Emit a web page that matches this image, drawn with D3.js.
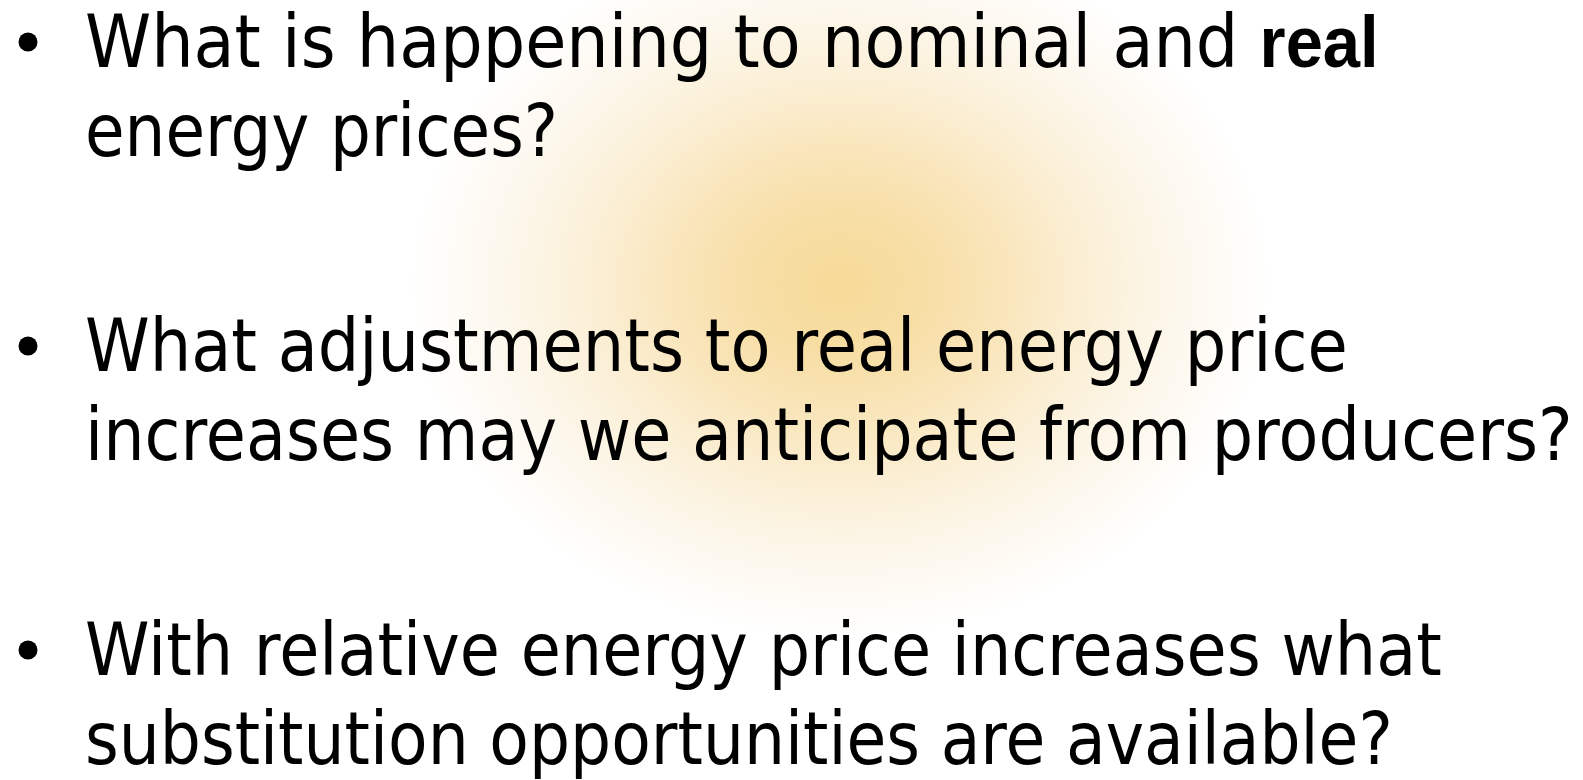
<!DOCTYPE html>
<html>
<head>
<meta charset="utf-8">
<script src="https://cdn.jsdelivr.net/npm/d3@7"></script>
<style>
  html, body { margin: 0; padding: 0; background: #fff; overflow: hidden; }
</style>
</head>
<body>
<svg id="slide" width="1583" height="780"></svg>
<script>
// bullet text, one array of lines per bullet (|word| = bold)
const bullet1 = ["What is happening to nominal and |real|", "energy prices?"]
const bullet2 = ["What adjustments to real energy price", "increases may we anticipate from producers?"]
const bullet3 = ["With relative energy price increases what", "substitution opportunities are available?"]
const bullets = [bullet1, bullet2, bullet3]

// right edge of every line in the picture (used to fit the font width)
const lineEnds = [[1379, 558], [1348, 1573], [1442, 1393]]

const w = 1583
const h = 780
const textX = 85
const bulletX = 28
const bulletR = 9.5
const fontSize = 73
const lineGap = 89

const svg = d3.select("#slide")

// soft golden glow behind the text
const defs = svg.append("defs")
const grad = defs.append("radialGradient")
  .attr("id", "glow")
  .attr("gradientUnits", "userSpaceOnUse")
  .attr("cx", 840).attr("cy", 285)
  .attr("r", 430)
  .attr("gradientTransform", "translate(840,285) scale(1,0.82) translate(-840,-285)")
const stops = [
  [0, "#f6da98"], [0.2, "#f7dea5"], [0.4, "#f9e6bd"],
  [0.6, "#fbf0d8"], [0.8, "#fdf8ee"], [1, "#ffffff"]
]
grad.selectAll("stop").data(stops).enter().append("stop")
  .attr("offset", d => d[0])
  .attr("stop-color", d => d[1])

svg.append("rect")
  .attr("width", w).attr("height", h)
  .attr("fill", "url(#glow)")

const yScale = d3.scaleLinear()
  .domain([0, bullets.length - 1])
  .range([67, 675])

const groups = svg.selectAll("g.bullet")
  .data(bullets)
  .enter()
  .append("g")
  .attr("class", "bullet")

groups.append("circle")
  .attr("cx", bulletX)
  .attr("cy", (d, i) => yScale(i) - 25)
  .attr("r", bulletR)
  .attr("fill", "#000")

groups.each(function(lines, bi) {
  const g = d3.select(this)
  lines.forEach((line, li) => {
    const y = yScale(bi) + li * lineGap
    const t = g.append("text")
      .attr("font-family", "'DejaVu Sans', Verdana, sans-serif")
      .attr("font-size", fontSize)
      .attr("fill", "#000")
      .attr("transform", `translate(${textX},${y})`)
    line.split("|").forEach((part, pi) => {
      if (part === "") return
      t.append("tspan")
        .text(part)
        .attr("font-weight", pi % 2 ? "bold" : null)
        .attr("font-family", pi % 2 ? "'Liberation Sans', Arial, sans-serif" : null)
    })
    // squeeze glyphs horizontally so the line ends where it does in the slide
    const len = t.node().getComputedTextLength()
    const sx = (lineEnds[bi][li] - textX) / len
    t.attr("transform", `translate(${textX},${y}) scale(${sx},1)`)
  })
})
</script>
</body>
</html>
